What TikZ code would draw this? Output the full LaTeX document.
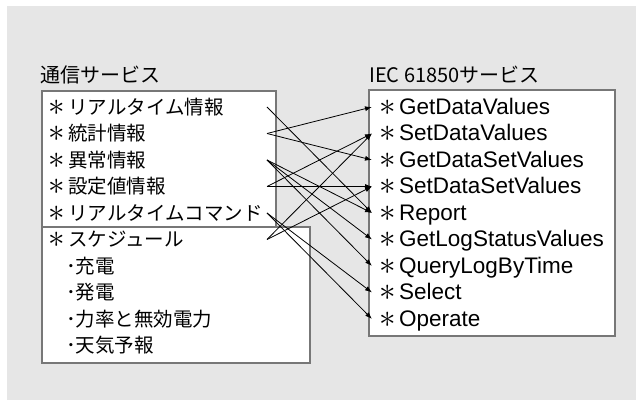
\documentclass[tikz,border=0pt]{standalone}
\usepackage{graphicx}
\usepackage{fontspec}
\setmainfont{Liberation Sans}
\newfontfamily\jp{Noto Sans CJK JP}
\usetikzlibrary{arrows.meta}
\definecolor{bgc}{HTML}{E6E6E6}
\definecolor{bordc}{HTML}{777777}
\newcommand\myast{\makebox[21pt][l]{\hspace{1.5pt}\fontsize{10}{12}\selectfont\smash{\raisebox{-0.8pt}{\scalebox{3.3}{$\ast$}}}}}
\begin{document}
\begin{tikzpicture}[x=1pt,y=-1pt,
  box/.style={draw=bordc,line width=1.6pt,fill=white,anchor=north west,inner sep=0pt},
  ltxt/.style={anchor=west,inner xsep=0pt,inner ysep=0pt,text height=17pt,text depth=2pt,font=\jp\fontsize{19.5}{24}\selectfont},
  rtxt/.style={anchor=west,inner xsep=6pt,inner ysep=0pt,text height=17pt,text depth=2pt,font=\fontsize{22.5}{26}\selectfont},
  ttl/.style={anchor=west,inner sep=0pt,font=\jp\fontsize{20}{24}\selectfont},
  conn/.style={line width=0.8pt,-{Latex[length=7pt,width=5pt]}}]
\useasboundingbox (0,0) rectangle (641,406);
\fill[bgc] (7,6) rectangle (636,400);
% titles
\node[ttl] (tl) at (40,75) {通信サービス};
\node[ttl] (tr) at (369,75) {IEC 61850サービス};
% boxes
\node[box,minimum width=234pt,minimum height=136pt] (ub) at (41,90) {};
\node[box,minimum width=268pt,minimum height=136pt] (lb) at (41,226) {};
\node[box,minimum width=246pt,minimum height=246pt] (rb) at (368,89) {};
% left texts
\node[ltxt] (l1) at (47,107) {\myast リアルタイム情報};
\node[ltxt] (l2) at (47,133.5) {\myast 統計情報};
\node[ltxt] (l3) at (47,160) {\myast 異常情報};
\node[ltxt] (l4) at (47,186.5) {\myast 設定値情報};
\node[ltxt] (l5) at (47,213) {\myast リアルタイムコマンド};
\node[ltxt] (l6) at (47,239.5) {\myast スケジュール};
\node[ltxt] (s1) at (66,266) {･充電};
\node[ltxt] (s2) at (66,292.5) {･発電};
\node[ltxt] (s3) at (66,319) {･力率と無効電力};
\node[ltxt] (s4) at (66,345.5) {･天気予報};
% right texts
\node[rtxt] (r1) at (372,107) {\myast GetDataValues};
\node[rtxt] (r2) at (372,133.5) {\myast SetDataValues};
\node[rtxt] (r3) at (372,160) {\myast GetDataSetValues};
\node[rtxt] (r4) at (372,186.5) {\myast SetDataSetValues};
\node[rtxt] (r5) at (372,213) {\myast Report};
\node[rtxt] (r6) at (372,239.5) {\myast GetLogStatusValues};
\node[rtxt] (r7) at (372,266) {\myast QueryLogByTime};
\node[rtxt] (r8) at (372,292.5) {\myast Select};
\node[rtxt] (r9) at (372,319) {\myast Operate};
% connector start points
\coordinate (c1) at (267,107);
\coordinate (c2) at (267,133.5);
\coordinate (c3) at (267,160);
\coordinate (c4) at (267,186.5);
\coordinate (c5) at (267,213);
\coordinate (c6) at (267,239.5);
% connectors
\draw[conn] (c1) -- (r5.west);
\draw[conn] (c2) -- (r1.west);
\draw[conn] (c2) -- (r3.west);
\draw[conn] (c3) -- (r5.west);
\draw[conn] (c3) -- (r6.west);
\draw[conn] (c3) -- (r7.west);
\draw[conn] (c4) -- (r2.west);
\draw[conn] (c4) -- (r4.west);
\draw[conn] (c5) -- (r8.west);
\draw[conn] (c5) -- (r9.west);
\draw[conn] (c6) -- (r2.west);
\draw[conn] (c6) -- (r4.west);
\end{tikzpicture}
\end{document}
